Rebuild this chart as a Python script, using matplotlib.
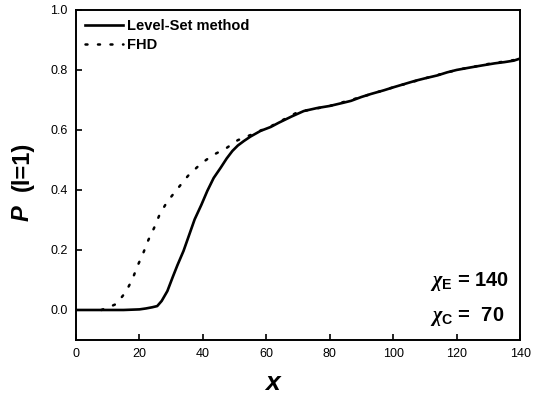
import matplotlib
matplotlib.use('Agg')
import matplotlib.pyplot as plt

plt.rcParams['font.family'] = ['Liberation Sans', 'DejaVu Sans']
plt.rcParams['mathtext.fontset'] = 'custom'
plt.rcParams['mathtext.rm'] = 'Liberation Sans:bold'
plt.rcParams['mathtext.it'] = 'Liberation Serif:italic:bold'

# Level-Set method (solid)
ls_x = [0, 5, 10, 15, 20, 22, 24, 25.6, 27, 28.8, 30.5, 32, 33.9, 35.5, 37.4, 39.5, 41.4,
        43.4, 45.6, 47.5, 49.3, 51, 52.9, 55, 58.2, 61.4, 63.9, 68, 71.8, 76, 80, 84,
        86.7, 90, 93, 97, 100, 103.5, 107, 110, 114, 117, 120, 124.7, 128, 132, 135,
        138, 140]
ls_y = [0.0, 0.0, 0.0, 0.0, 0.002, 0.005, 0.009, 0.013, 0.03, 0.063, 0.11, 0.15, 0.197,
        0.245, 0.302, 0.35, 0.397, 0.44, 0.474, 0.505, 0.53, 0.548, 0.563, 0.578, 0.597,
        0.61, 0.624, 0.645, 0.663, 0.673, 0.68, 0.69, 0.697, 0.71, 0.72, 0.732, 0.742,
        0.753, 0.764, 0.772, 0.782, 0.792, 0.8, 0.809, 0.815, 0.822, 0.826, 0.831, 0.838]

# FHD (dotted)
fhd_x = [8, 8.7, 10.5, 12.7, 15.7, 17.8, 19.4, 21.1, 22.8, 24.6, 26.4, 28.7, 32, 35.3,
         39.2, 43.1, 47.2, 51, 55, 58.2, 61.4, 65, 70, 80, 90, 100, 110, 120, 130, 140]
fhd_y = [0.0, 0.003, 0.01, 0.02, 0.06, 0.103, 0.147, 0.187, 0.233, 0.273, 0.319,
         0.36, 0.404, 0.447, 0.486, 0.516, 0.538, 0.566, 0.583, 0.598, 0.612, 0.632,
         0.66, 0.68, 0.71, 0.742, 0.772, 0.8, 0.82, 0.836]

fig = plt.figure(figsize=(5.39, 3.97), dpi=100)
ax = fig.add_axes([0.141, 0.1436, 0.824, 0.8314])

ax.plot(ls_x, ls_y, color='k', lw=1.9, label='Level-Set method')
ax.plot(fhd_x, fhd_y, color='k', lw=1.8, linestyle=(0, (0.8, 4.2)),
        dash_capstyle='round', label='FHD')

ax.set_xlim(0, 140)
ax.set_ylim(-0.1, 1.0)
ax.set_xticks([0, 20, 40, 60, 80, 100, 120, 140])
ax.set_yticks([0.0, 0.2, 0.4, 0.6, 0.8, 1.0])
ax.set_yticklabels(['0.0', '0.2', '0.4', '0.6', '0.8', '1.0'])
ax.tick_params(direction='in', length=4, width=1.2, labelsize=9, pad=6)
for s in ax.spines.values():
    s.set_linewidth(1.4)

leg = ax.legend(loc='upper left', frameon=False, handlelength=2.6, handletextpad=0.3,
                borderaxespad=0.2, labelspacing=0.35,
                prop={'weight': 'bold', 'size': 10.5})

ax.text(0.797, 0.176, r'$\chi_{\rm E}$ = 140', transform=ax.transAxes, ha='left',
        va='center', fontsize=14.5, fontweight='bold')
ax.text(0.797, 0.07, r'$\chi_{\rm C}$ =  70', transform=ax.transAxes, ha='left',
        va='center', fontsize=14.5, fontweight='bold')

fig.text(0.505, 0.035, 'x', ha='center', va='center', fontsize=19,
         fontweight='bold', style='italic')
fig.text(0.041, 1 - 213 / 397, 'P', ha='center', va='center', rotation=90,
         fontsize=17, fontweight='bold', style='italic')
fig.text(0.041, 1 - 166 / 397, '(l=1)', ha='center', va='center', rotation=90,
         fontsize=17, fontweight='bold')

fig.savefig('out.png', dpi=100)
